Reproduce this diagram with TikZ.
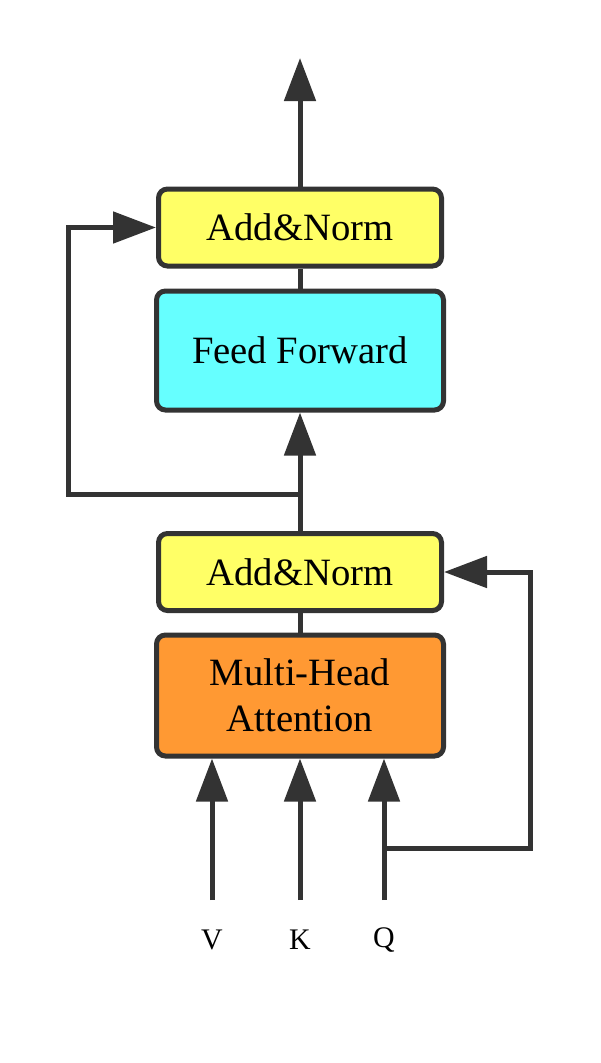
\documentclass[tikz,border=0pt]{standalone}
\usepackage{fontspec}
\setmainfont{Liberation Serif}
\usetikzlibrary{positioning,arrows.meta}
\definecolor{edge}{HTML}{333333}
\definecolor{normfill}{HTML}{FFFF66}
\definecolor{fffill}{HTML}{66FFFF}
\definecolor{attfill}{HTML}{FF9933}
\begin{document}
\begin{tikzpicture}[
  every node/.style={scale=1.0},
  block/.style={rectangle,draw=edge,line width=0.1cm,rounded corners=0.18cm,fill=#1,minimum width=5.66cm,align=center,font=\fontsize{22}{26}\selectfont,inner sep=0pt},
  link/.style={draw=edge,line width=0.1cm,-{Triangle[length=0.86cm,width=0.62cm]}},
  plain/.style={draw=edge,line width=0.1cm},
  inlabel/.style={font=\fontsize{17}{20}\selectfont},
]
\useasboundingbox (0,0) rectangle (12,-21.26);

\node (upnorm) [block=normfill,minimum height=1.54cm] at (6,-4.55) {Add\&Norm};
\node (feedfwd) [block=fffill,minimum height=2.38cm,minimum width=5.74cm] at (6,-7.01) {Feed Forward};
\node (lownorm) [block=normfill,minimum height=1.54cm] at (6,-11.44) {Add\&Norm};
\node (mha) [block=attfill,minimum height=2.42cm,minimum width=5.74cm] at (6,-13.91) {Multi-Head\\Attention};

\coordinate (out) at (6,-1.16);
\coordinate (ffsplit) at (6,-9.88);
\coordinate (ffturn) at (1.36,-9.88);
\coordinate (vin) at (4.24,-18.0);
\coordinate (kin) at (6,-18.0);
\coordinate (qin) at (7.68,-18.0);
\coordinate (qsplit) at (7.68,-16.96);
\coordinate (qturn) at (10.6,-16.96);

\node (vlab) [inlabel] at (4.24,-18.8) {V};
\node (klab) [inlabel] at (6,-18.8) {K};
\node (qlab) [inlabel] at (7.68,-18.8) {Q};

\draw[link] (upnorm.north) -- (out);
\draw[plain] (feedfwd.north) -- (upnorm.south);
\draw[link] (lownorm.north) -- (feedfwd.south);
\draw[link] (ffsplit) -- (ffturn) |- (upnorm.west);
\draw[plain] (mha.north) -- (lownorm.south);

\draw[link] (vin) -- (vin |- mha.south);
\draw[link] (kin) -- (kin |- mha.south);
\draw[link] (qin) -- (qin |- mha.south);
\draw[link] (qsplit) -- (qturn) |- (lownorm.east);
\end{tikzpicture}
\end{document}
